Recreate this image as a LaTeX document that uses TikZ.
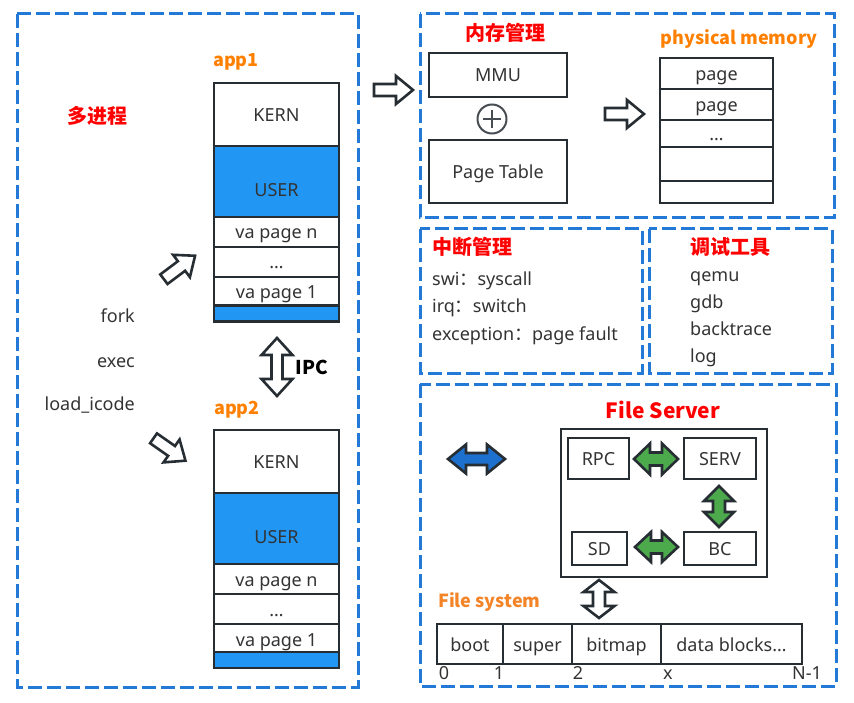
\documentclass[tikz,border=0pt]{standalone}
\usepackage{fontspec}
\setmainfont{Noto Sans}
\newfontfamily\cjk{Noto Sans CJK SC}
\definecolor{dashblue}{RGB}{34,122,214}
\definecolor{userblue}{RGB}{33,150,243}
\definecolor{dk}{RGB}{38,46,52}
\definecolor{txt}{RGB}{51,51,51}
\definecolor{org}{RGB}{255,128,0}
\definecolor{org2}{RGB}{244,132,40}
\definecolor{grn}{RGB}{76,170,76}
\definecolor{arrblue}{RGB}{30,112,206}
\newcommand\myfs[1]{\fontsize{#1}{#1}\selectfont}
% single block arrow: x, y, angle
\newcommand\sarrow[3]{%
  \begin{scope}[shift={(#1,#2)},rotate=#3]
    \draw[barrow] (-19.5,-6) -- (2.5,-6) -- (2.5,-14) -- (19.5,0) -- (2.5,14) -- (2.5,6) -- (-19.5,6) -- cycle;
  \end{scope}}
% double block arrow: style, x, y, angle, halflen, headlen, halfhead, halfshaft
\newcommand\darrow[8]{%
  \begin{scope}[shift={(#2,#3)},rotate=#4]
    \draw[#1] (-#5,0) -- (-#5+#6,#7) -- (-#5+#6,#8) -- (#5-#6,#8) -- (#5-#6,#7) -- (#5,0)
      -- (#5-#6,-#7) -- (#5-#6,-#8) -- (-#5+#6,-#8) -- (-#5+#6,-#7) -- cycle;
  \end{scope}}
\begin{document}
\begin{tikzpicture}[x=1pt,y=-1pt,
  dbox/.style={draw=dashblue, line width=3pt, dash pattern=on 14pt off 5pt},
  cell/.style={draw=dk, line width=2.6pt, inner sep=0pt, text=txt, font=\myfs{18},
    text height=15pt, text depth=1pt},
  ucell/.style={cell, fill=userblue},
  barrow/.style={draw=dk, line width=2.6pt, fill=white, line join=miter},
  garrow/.style={draw=dk, line width=2.6pt, fill=grn, line join=miter},
  barrowb/.style={draw=dk, line width=2.6pt, fill=arrblue, line join=miter},
  redh/.style={text=red, font=\cjk\bfseries\myfs{20}, inner sep=0pt},
  orgh/.style={text=org, font=\cjk\bfseries\myfs{18}, inner sep=0pt},
  plain/.style={text=txt, font=\myfs{18}, inner sep=0pt, text height=13pt, text depth=4pt},
]
\useasboundingbox (0,0) rectangle (854,703);

% dashed group boxes
\draw[dbox] (17,14) rectangle (358,687);
\draw[dbox] (420,14) rectangle (834,218);
\draw[dbox] (420,229) rectangle (642,373);
\draw[dbox] (649,229) rectangle (832,373);
\draw[dbox] (420,384) rectangle (836,686);

% ---------------- left: processes
\node[redh] (mp) at (97,116) {多进程};
\node[orgh] (app1) at (236,62) {app1};
\node[cell, minimum width=125, minimum height=63] (a1k) at (276.5,114.5) {KERN};
\node[ucell, minimum width=125, minimum height=71] (a1u) at (276.5,181.5) {\raisebox{-8pt}{USER}};
\node[cell, minimum width=125, minimum height=30] (a1n) at (276.5,232) {va page n};
\node[cell, minimum width=125, minimum height=30] (a1d) at (276.5,262) {…};
\node[cell, minimum width=125, minimum height=30] (a1o) at (276.5,292) {va page 1};
\node[ucell, minimum width=125, minimum height=13] (a1s) at (276.5,313.5) {};

\node[orgh] (app2) at (237,410) {app2};
\node[cell, minimum width=125, minimum height=63] (a2k) at (276.5,461.5) {KERN};
\node[ucell, minimum width=125, minimum height=71] (a2u) at (276.5,528.5) {\raisebox{-8pt}{USER}};
\node[cell, minimum width=125, minimum height=30] (a2n) at (276.5,579) {va page n};
\node[cell, minimum width=125, minimum height=30] (a2d) at (276.5,609) {…};
\node[cell, minimum width=125, minimum height=30] (a2o) at (276.5,639) {va page 1};
\node[ucell, minimum width=125, minimum height=13] (a2s) at (276.5,660) {};

\node[plain, anchor=east] (fork) at (135,318) {fork};
\node[plain, anchor=east] (exec) at (135,363) {exec};
\node[plain, anchor=east] (load) at (135,406) {load\_icode};

\sarrow{179.5}{267.5}{37}
\sarrow{169.5}{449.5}{-35}
\darrow{barrow}{277}{367}{90}{29}{17}{15.5}{5.5}
\node[text=black, font=\cjk\bfseries\myfs{19}, inner sep=0pt] (ipc) at (312,367) {IPC};

% ---------------- memory management
\sarrow{393.5}{90}{0}
\node[redh] (mm) at (505,33) {内存管理};
\node[cell, minimum width=138, minimum height=44] (mmu) at (498,75) {MMU};
\node[circle, draw=dk!85, line width=2pt, minimum size=29, inner sep=0pt] (plus) at (492,119) {};
\draw[dk!85, line width=2pt] ([xshift=-9pt]plus.center) -- ([xshift=9pt]plus.center)
  ([yshift=-9pt]plus.center) -- ([yshift=9pt]plus.center);
\node[cell, minimum width=138, minimum height=63] (pt) at (498,171.5) {Page Table};
\sarrow{624.5}{114}{0}
\node[orgh] (pm) at (739,39) {physical memory};
\node[cell, minimum width=113, minimum height=31] (p1) at (716.5,73.5) {page};
\node[cell, minimum width=113, minimum height=31] (p2) at (716.5,104.5) {page};
\node[cell, minimum width=113, minimum height=27] (p3) at (716.5,133.5) {…};
\node[cell, minimum width=113, minimum height=34] (p4) at (716.5,164) {};
\node[cell, minimum width=113, minimum height=22] (p5) at (716.5,192) {};

% ---------------- interrupts
\node[redh, anchor=west] (irqh) at (432,247) {中断管理};
\node[plain, anchor=west] (l1) at (432,281) {swi{\cjk ：}syscall};
\node[plain, anchor=west] (l2) at (432,308) {irq{\cjk ：}switch};
\node[plain, anchor=west] (l3) at (432,336) {exception{\cjk ：}page fault};

% ---------------- debug tools
\node[redh, anchor=west] (dbg) at (690,247) {调试工具};
\node[plain, anchor=west] (q) at (690,277) {qemu};
\node[plain, anchor=west] (g) at (690,304) {gdb};
\node[plain, anchor=west] (b) at (690,331) {backtrace};
\node[plain, anchor=west] (lg) at (690,358) {log};

% ---------------- file server
\node[text=red, font=\cjk\bfseries\myfs{21}, inner sep=0pt] (fsrv) at (663,410) {File Server};
\node[draw=dk, line width=2.6pt, minimum width=206, minimum height=148, inner sep=0pt] (inner) at (664,503) {};
\node[cell, minimum width=61, minimum height=41] (rpc) at (598.5,458.5) {RPC};
\node[cell, minimum width=72, minimum height=41] (serv) at (720,458.5) {SERV};
\node[cell, minimum width=55, minimum height=33] (sd) at (599.5,548.5) {SD};
\node[cell, minimum width=72, minimum height=33] (bc) at (720,548.5) {BC};
\darrow{garrow}{656}{459}{0}{22}{16}{15.5}{6.5}
\darrow{garrow}{719}{506.5}{90}{20.5}{15}{15}{6}
\darrow{garrow}{656.5}{547}{0}{21.5}{16}{15}{6.5}
\darrow{barrowb}{476.5}{459}{0}{28.5}{18}{14.5}{6}
\darrow{barrow}{599}{599}{90}{19}{12}{15.5}{6}

\node[text=org2, font=\cjk\bfseries\myfs{18}, inner sep=0pt, anchor=west] (fsys) at (438,602) {File system};
\node[cell, minimum width=66, minimum height=40] (boot) at (470,644) {boot};
\node[cell, minimum width=69, minimum height=40] (super) at (537.5,644) {super};
\node[cell, minimum width=89, minimum height=40] (bitmap) at (616.5,644) {bitmap};
\node[cell, minimum width=141, minimum height=40] (data) at (731.5,644) {data blocks…};
\node[plain] (n0) at (444,675) {0};
\node[plain] (n1) at (499,675) {1};
\node[plain] (n2) at (578,675) {2};
\node[plain] (nx) at (668,675) {x};
\node[plain] (nn) at (807,675) {N-1};
\end{tikzpicture}
\end{document}
